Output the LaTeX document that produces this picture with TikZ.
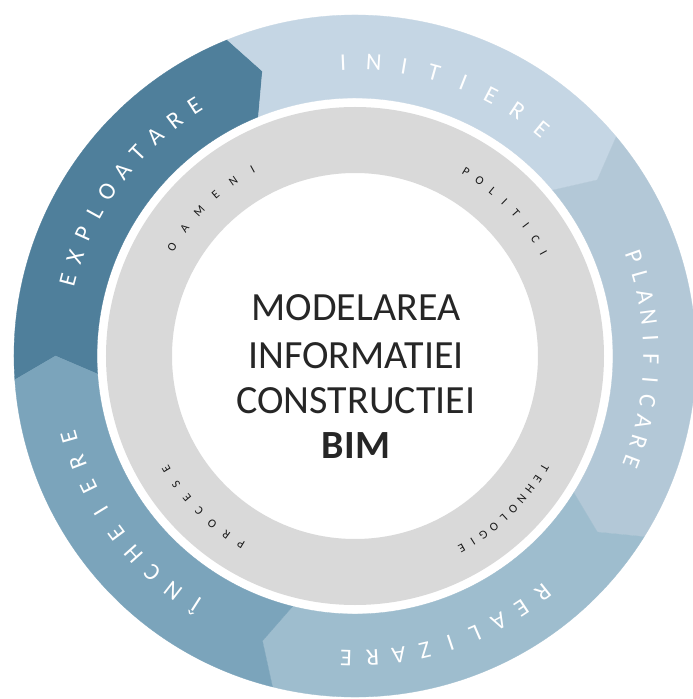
\documentclass[tikz,border=0pt]{standalone}
\usepackage{fontspec}
\setmainfont{Carlito}
\definecolor{cExp}{HTML}{4F7F9B}
\definecolor{cIni}{HTML}{C5D6E4}
\definecolor{cPla}{HTML}{B3C8D7}
\definecolor{cRea}{HTML}{9EBDCE}
\definecolor{cInc}{HTML}{7BA4BB}
\definecolor{cGray}{HTML}{D9D9D9}
\definecolor{cText}{HTML}{262626}
\tikzset{
  outerletter/.style={text=white, inner sep=0pt, font=\fontsize{24}{24}\selectfont},
  innerletter/.style={text=black!90, inner sep=0pt, font=\fontsize{12}{12}\selectfont},
  titleline/.style={text=cText, font=\fontsize{40}{46}\selectfont, anchor=base, inner sep=0pt},
}
% #1 colour, #2 start angle, #3 end angle (clockwise)
\newcommand\ringseg[3]{%
  \fill[#1, draw=#1, line width=0.3pt] (#2:341pt) arc[start angle=#2, end angle=#3, radius=341pt]
    -- ({#3-4}:299.5pt) -- (#3:258pt) arc[start angle=#3, end angle=#2, radius=258pt]
    -- ({#2-4}:299.5pt) -- cycle;}
% #1 style, #2 radius, #3 start angle, #4 end angle, #5 count, #6 name prefix, #7 letters
\newcommand\arcword[7]{%
  \foreach \ch [count=\k] in {#7} {%
    \pgfmathsetmacro\ang{#3+(#4-(#3))*(\k-1)/(#5-1)}%
    \node[#1, rotate=\ang-90] (#6\k) at (\ang:#2pt) {\ch};
  }}
\begin{document}
\begin{tikzpicture}[x=1pt,y=1pt]
  \clip (-355,-343) rectangle (338,356);
  \fill[white] (-355,-343) rectangle (338,356);
  % outer ring segments
  \ringseg{cExp}{184}{112}
  \ringseg{cIni}{112}{40}
  \ringseg{cPla}{40}{-32}
  \ringseg{cRea}{-32}{-104}
  \ringseg{cInc}{-104}{-176}
  % inner gray ring
  \fill[cGray, even odd rule] (0,0) circle[radius=249pt] (0,0) circle[radius=183pt];
  % outer labels
  \arcword{outerletter}{297}{165.2}{122.7}{10}{ex}{E,X,P,L,O,A,T,A,R,E}
  \arcword{outerletter}{294}{92.3}{50.5}{8}{in}{I,N,I,T,I,E,R,E}
  \arcword{outerletter}{296}{19.6}{-20.9}{11}{pl}{P,L,A,N,I,F,I,C,A,R,E}
  \arcword{outerletter}{302}{-51.5}{-91.7}{9}{re}{R,E,A,L,I,Z,A,R,E}
  \arcword{outerletter}{297}{-122.6}{-164.2}{9}{ic}{Î,N,C,H,E,I,E,R,E}
  % inner labels
  \arcword{innerletter}{213}{149.2}{118.7}{6}{oa}{O,A,M,E,N,I}
  \arcword{innerletter}{215}{58.9}{28.7}{8}{po}{P,O,L,I,T,I,C,I}
  \arcword{innerletter}{220}{-30.5}{-61}{10}{te}{T,E,H,N,O,L,O,G,I,E}
  \arcword{innerletter}{220}{-121.2}{-149}{7}{pr}{P,R,O,C,E,S,E}
  % centre title
  \node[titleline] (t1) at (1,35) {MODELAREA};
  \node[titleline] (t2) at (1,-12) {INFORMATIEI};
  \node[titleline] (t3) at (1,-57) {CONSTRUCTIEI};
  \node[titleline, font=\fontsize{40}{46}\selectfont\bfseries] (t4) at (1,-102) {BIM};
\end{tikzpicture}
\end{document}
